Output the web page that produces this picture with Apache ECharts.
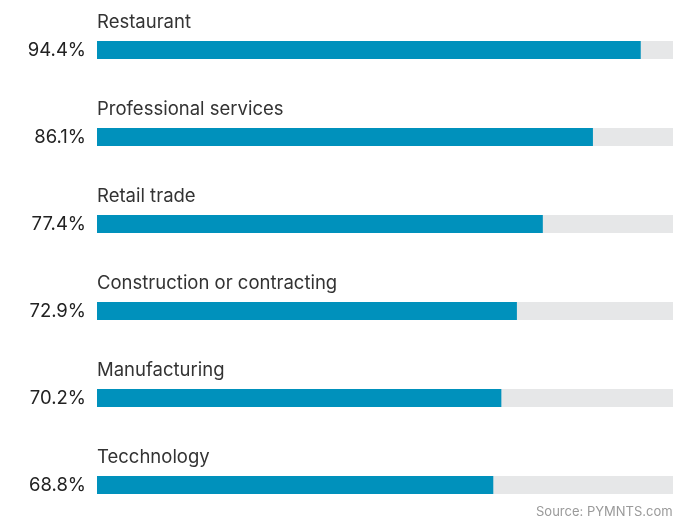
<!DOCTYPE html>
<html>
<head>
<meta charset="utf-8">
<script src="https://cdn.jsdelivr.net/npm/echarts@6/dist/echarts.min.js"></script>
<style>html,body{margin:0;padding:0;background:#fff;overflow:hidden;width:693px;height:523px}#c{width:693px;height:540px}</style>
</head>
<body>
<div id="c"></div>
<script>
var categories = ["Restaurant", "Professional services", "Retail trade", "Construction or contracting", "Manufacturing", "Tecchnology"];
var values = [94.4, 86.1, 77.4, 72.9, 70.2, 68.8];
var sourceText = "Source: PYMNTS.com";

var FONT = 'Inter, sans-serif';
var chart = echarts.init(document.getElementById('c'), null, {renderer: 'canvas'});
chart.setOption({
  backgroundColor: '#ffffff',
  animation: false,
  grid: {left: 97, right: 20, top: 6.5, height: 522, containLabel: false},
  xAxis: {type: 'value', min: 0, max: 100, show: false},
  yAxis: {
    type: 'category', data: categories, inverse: true,
    axisLine: {show: false}, axisTick: {show: false}, splitLine: {show: false},
    axisLabel: {
      margin: 11, fontSize: 18.5, color: '#222222', fontFamily: FONT,
      formatter: function (v, i) { return values[i].toFixed(1) + '%'; }
    }
  },
  series: [{
    type: 'bar', data: values, barWidth: 18,
    itemStyle: {color: '#0091BC'},
    showBackground: true,
    backgroundStyle: {color: '#E6E7E8'},
    label: {
      show: true, position: [0, -19], align: 'left', verticalAlign: 'middle',
      fontSize: 18.5, color: '#333333', fontFamily: FONT,
      formatter: function (p) { return p.name; }
    }
  }],
  graphic: [{
    type: 'text', left: 536, top: 505.5,
    style: {text: sourceText, fontSize: 13, fill: '#9a9a9a', fontFamily: FONT}
  }]
});
</script>
</body>
</html>
